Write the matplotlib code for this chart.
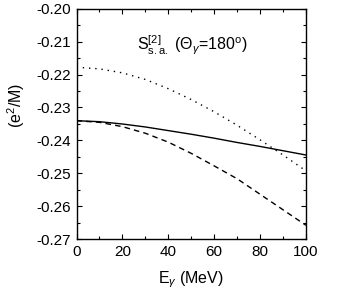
import matplotlib
matplotlib.use('Agg')
import matplotlib.pyplot as plt
from matplotlib.ticker import MultipleLocator

plt.rcParams['font.family'] = ['Liberation Sans', 'DejaVu Sans']
plt.rcParams['mathtext.fontset'] = 'custom'
plt.rcParams['mathtext.rm'] = 'Liberation Sans'
plt.rcParams['mathtext.it'] = 'Liberation Sans:italic'

# photon energy (MeV)
energy = [0, 10, 20, 30, 40, 50, 60, 70, 80, 90, 100]
# curves (e^2/M)
solid = [-0.2340, -0.2343, -0.2350, -0.2359, -0.2370, -0.2381,
         -0.2393, -0.2406, -0.2418, -0.2431, -0.2444]
dashed = [-0.2340, -0.2345, -0.2358, -0.2378, -0.2405, -0.2439,
          -0.2477, -0.2516, -0.2563, -0.2610, -0.2657]
dotted = [-0.2178, -0.2183, -0.2195, -0.2215, -0.2243, -0.2276,
          -0.2313, -0.2354, -0.2398, -0.2444, -0.2492]

fig = plt.figure(figsize=(3.42, 3.07), dpi=100)
ax = fig.add_axes([0.2237, 0.2199, 0.6710, 0.7524])

ax.plot(energy, solid, color='black', lw=1.0, ls='-')
ax.plot(energy, dashed, color='black', lw=1.0, ls=(0, (4, 3)))
ax.plot(energy, dotted, color='black', lw=1.0, ls=(0, (1, 3.5)))

ax.set_xlim(0, 100)
ax.set_ylim(-0.27, -0.20)
ax.xaxis.set_major_locator(MultipleLocator(20))
ax.xaxis.set_minor_locator(MultipleLocator(10))
ax.yaxis.set_major_locator(MultipleLocator(0.01))
ax.yaxis.set_minor_locator(MultipleLocator(0.005))
ax.set_yticklabels(['%.2f' % v for v in ax.get_yticks()])

ax.tick_params(which='both', direction='in', top=True, right=True,
               width=0.8, labelsize=11)
ax.tick_params(which='major', length=3.5, pad=4)
ax.tick_params(which='minor', length=2)
for s in ax.spines.values():
    s.set_linewidth(1.0)

ax.set_xlabel(r'E$_\gamma$ (MeV)', fontsize=11.5)
ax.xaxis.set_label_coords(0.5, -0.128)
ax.set_ylabel(r'(e$^2$/M)', fontsize=11.5)
ax.yaxis.set_label_coords(-0.215, 0.58)

ax.text(0.265, 0.842, r'S$^{[2]}_{\mathrm{s.a.}}$ ($\Theta_\gamma$=180$^\mathrm{o}$)',
        transform=ax.transAxes, fontsize=11.5, va='center', ha='left')

fig.savefig('out.png', dpi=100)
